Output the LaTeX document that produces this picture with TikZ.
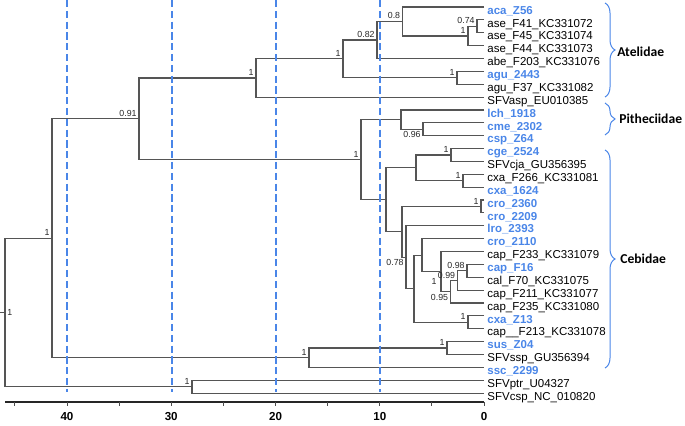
\documentclass[tikz,border=0pt]{standalone}
\usepackage{fontspec}
\setmainfont{Liberation Sans}
\newfontfamily\cladefont{Carlito}
\usepackage{tikz}
\usetikzlibrary{decorations.pathreplacing}

\definecolor{tipblue}{RGB}{74,134,232}
\definecolor{treegray}{RGB}{85,85,85}

\begin{document}
\begin{tikzpicture}[
        x=0.5pt, y=-0.5pt,
        branch/.style={draw=treegray, line width=0.55pt},
        leaf/.style={anchor=west, inner sep=1.5pt, text height=0.72em, text depth=0pt, font=\fontsize{5.75}{7}\selectfont},
        hilite/.style={leaf, text=tipblue, font=\fontsize{5.75}{7}\selectfont\bfseries},
        supp/.style={anchor=south east, inner sep=1pt, font=\fontsize{4.4}{5}\selectfont, text=black!85},
        suppbelow/.style={supp, anchor=north east},
        guide/.style={draw=tipblue, line width=0.9pt, dash pattern=on 3.6pt off 1.8pt},
        clade/.style={draw=tipblue, line width=0.5pt, decorate, decoration={brace, amplitude=5pt}},
        cladename/.style={anchor=west, inner sep=0pt, font=\cladefont\fontsize{6.8}{9}\selectfont\bfseries},
        axislab/.style={inner sep=0pt, font=\fontsize{5.8}{7}\selectfont\bfseries},
    ]
        \useasboundingbox (0,0) rectangle (685,426);

        % Tips
        \node[hilite] (acaZ56)  at (484,7.00)   {aca\_Z56};
        \node[leaf]   (aseF41)  at (484,19.87)  {ase\_F41\_KC331072};
        \node[leaf]   (aseF45)  at (484,32.74)  {ase\_F45\_KC331074};
        \node[leaf]   (aseF44)  at (484,45.61)  {ase\_F44\_KC331073};
        \node[leaf]   (abeF203) at (484,58.48)  {abe\_F203\_KC331076};
        \node[hilite] (agu2443) at (484,71.35)  {agu\_2443};
        \node[leaf]   (aguF37)  at (484,84.22)  {agu\_F37\_KC331082};
        \node[leaf]   (sfvasp)  at (484,97.09)  {SFVasp\_EU010385};
        \node[hilite] (lch1918) at (484,109.96) {lch\_1918};
        \node[hilite] (cme2302) at (484,122.83) {cme\_2302};
        \node[hilite] (cspZ64)  at (484,135.70) {csp\_Z64};
        \node[hilite] (cge2524) at (484,148.57) {cge\_2524};
        \node[leaf]   (sfvcja)  at (484,161.44) {SFVcja\_GU356395};
        \node[leaf]   (cxaF266) at (484,174.31) {cxa\_F266\_KC331081};
        \node[hilite] (cxa1624) at (484,187.18) {cxa\_1624};
        \node[hilite] (cro2360) at (484,200.05) {cro\_2360};
        \node[hilite] (cro2209) at (484,212.92) {cro\_2209};
        \node[hilite] (lro2393) at (484,225.79) {lro\_2393};
        \node[hilite] (cro2110) at (484,238.66) {cro\_2110};
        \node[leaf]   (capF233) at (484,251.53) {cap\_F233\_KC331079};
        \node[hilite] (capF16)  at (484,264.40) {cap\_F16};
        \node[leaf]   (calF70)  at (484,277.27) {cal\_F70\_KC331075};
        \node[leaf]   (capF211) at (484,290.14) {cap\_F211\_KC331077};
        \node[leaf]   (capF235) at (484,303.01) {cap\_F235\_KC331080};
        \node[hilite] (cxaZ13)  at (484,315.88) {cxa\_Z13};
        \node[leaf]   (capF213) at (484,328.75) {cap\_\_F213\_KC331078};
        \node[hilite] (susZ04)  at (484,341.62) {sus\_Z04};
        \node[leaf]   (sfvssp)  at (484,354.49) {SFVssp\_GU356394};
        \node[hilite] (ssc2299) at (484,367.36) {ssc\_2299};
        \node[leaf]   (sfvptr)  at (484,380.23) {SFVptr\_U04327};
        \node[leaf]   (sfvcsp)  at (484,393.10) {SFVcsp\_NC\_010820};

        % Internal nodes
        \coordinate (atel1) at (477,26.31);
        \coordinate (atel2) at (468,35.96);
        \coordinate (atel3) at (402.5,21.48);
        \coordinate (atel4) at (377,39.98);
        \coordinate (atel5) at (457,77.79);
        \coordinate (atel6) at (343,58.88);
        \coordinate (atel7) at (256,77.99);
        \coordinate (pith1) at (423,129.27);
        \coordinate (pith2) at (401,119.60);
        \coordinate (ceb1) at (451,155.00);
        \coordinate (ceb2) at (463,180.75);
        \coordinate (ceb3) at (416,167.87);
        \coordinate (ceb4) at (481,206.49);
        \coordinate (ceb5) at (467,270.84);
        \coordinate (ceb6) at (457.5,280.49);
        \coordinate (ceb7) at (450.5,291.75);
        \coordinate (ceb8) at (441,271.64);
        \coordinate (ceb9) at (422,255.15);
        \coordinate (ceb10) at (468,322.32);
        \coordinate (ceb11) at (414,288.73);
        \coordinate (ceb12) at (406,257.26);
        \coordinate (ceb13) at (402,231.87);
        \coordinate (ceb14) at (386,199.87);
        \coordinate (pithceb) at (361,159.74);
        \coordinate (newworld) at (139,118.86);
        \coordinate (ssp1) at (447,348.05);
        \coordinate (ssp2) at (309,357.70);
        \coordinate (monkeys) at (52,238.28);
        \coordinate (oldworld) at (192,386.67);
        \coordinate (root) at (5,312.47);
        \coordinate (stub) at (0,312.47);

        % Branches
        \draw[branch] (aseF41.west) -| (atel1) |- (aseF45.west);
        \draw[branch] (atel1) -| (atel2) |- (aseF44.west);
        \draw[branch] (acaZ56.west) -| (atel3) |- (atel2);
        \draw[branch] (atel3) -| (atel4) |- (abeF203.west);
        \draw[branch] (agu2443.west) -| (atel5) |- (aguF37.west);
        \draw[branch] (atel4) -| (atel6) |- (atel5);
        \draw[branch] (atel6) -| (atel7) |- (sfvasp.west);
        \draw[branch] (cme2302.west) -| (pith1) |- (cspZ64.west);
        \draw[branch] (lch1918.west) -| (pith2) |- (pith1);
        \draw[branch] (cge2524.west) -| (ceb1) |- (sfvcja.west);
        \draw[branch] (cxaF266.west) -| (ceb2) |- (cxa1624.west);
        \draw[branch] (ceb1) -| (ceb3) |- (ceb2);
        \draw[branch] (cro2360.west) -| (ceb4) |- (cro2209.west);
        \draw[branch] (capF16.west) -| (ceb5) |- (calF70.west);
        \draw[branch] (ceb5) -| (ceb6) |- (capF211.west);
        \draw[branch] (ceb6) -| (ceb7) |- (capF235.west);
        \draw[branch] (capF233.west) -| (ceb8) |- (ceb7);
        \draw[branch] (cro2110.west) -| (ceb9) |- (ceb8);
        \draw[branch] (cxaZ13.west) -| (ceb10) |- (capF213.west);
        \draw[branch] (ceb9) -| (ceb11) |- (ceb10);
        \draw[branch] (lro2393.west) -| (ceb12) |- (ceb11);
        \draw[branch] (ceb4) -| (ceb13) |- (ceb12);
        \draw[branch] (ceb3) -| (ceb14) |- (ceb13);
        \draw[branch] (pith2) -| (pithceb) |- (ceb14);
        \draw[branch] (atel7) -| (newworld) |- (pithceb);
        \draw[branch] (susZ04.west) -| (ssp1) |- (sfvssp.west);
        \draw[branch] (ssp1) -| (ssp2) |- (ssc2299.west);
        \draw[branch] (newworld) -| (monkeys) |- (ssp2);
        \draw[branch] (sfvptr.west) -| (oldworld) |- (sfvcsp.west);
        \draw[branch] (monkeys) -| (root) |- (oldworld);
        \draw[branch] (stub) -- (root);

        % Support values
        \node[supp] (s-atel1) at (atel1) {0.74};
        \node[supp] (s-atel2) at (atel2) {1};
        \node[supp] (s-atel3) at (atel3) {0.8};
        \node[supp] (s-atel4) at (atel4) {0.82};
        \node[supp] (s-atel5) at (atel5) {1};
        \node[supp] (s-atel6) at (atel6) {1};
        \node[supp] (s-atel7) at (atel7) {1};
        \node[suppbelow] (s-pith1) at (pith1) {0.96};
        \node[supp] (s-ceb1) at (ceb1) {1};
        \node[supp] (s-ceb2) at (ceb2) {1};
        \node[supp] (s-ceb4) at (ceb4) {1};
        \node[supp] (s-ceb5) at (ceb5) {0.98};
        \node[supp] (s-ceb6) at (ceb6) {0.99};
        \node[suppbelow] (s-ceb7) at (ceb7) {0.95};
        \node[supp, anchor=east] (s-ceb8) at ([shift={(-2,9.5)}]ceb8) {1};
        \node[supp] (s-ceb10) at (ceb10) {1};
        \node[suppbelow] (s-ceb12) at (ceb12) {0.78};
        \node[supp] (s-pithceb) at (pithceb) {1};
        \node[supp] (s-newworld) at (newworld) {0.91};
        \node[supp] (s-ssp1) at (ssp1) {1};
        \node[supp] (s-ssp2) at (ssp2) {1};
        \node[supp] (s-monkeys) at (monkeys) {1};
        \node[supp] (s-oldworld) at (oldworld) {1};
        \node[supp, anchor=west] (s-root) at (root) {1};

        % Time guides
        \draw[guide] (380,0) -- (380,392);
        \draw[guide] (276,0) -- (276,392);
        \draw[guide] (172,0) -- (172,392);
        \draw[guide] (67,0) -- (67,392);

        % Axis
        \coordinate (axisL) at (5,402);
        \coordinate (axisR) at (484,402);
        \draw[line width=0.8pt, black!85] (axisL) -- (axisR);
        \foreach \t in {0,5,...,45}
            \draw[line width=0.5pt, black!70] ({484-10.425*\t},402) -- ++(0,4);
        \foreach \t in {0,10,20,30,40}
            \node[axislab] (tick\t) at ({484-10.425*\t},417) {\t};

        % Families
        \draw[clade] (605,3) -- (605,97);
        \draw[clade] (605,103) -- (605,135);
        \draw[clade] (605,150) -- (605,368);
        \node[cladename] (atelidae) at (617,52) {Atelidae};
        \node[cladename] (pitheciidae) at (619,119) {Pitheciidae};
        \node[cladename] (cebidae) at (620,259) {Cebidae};

    \end{tikzpicture}
\end{document}
